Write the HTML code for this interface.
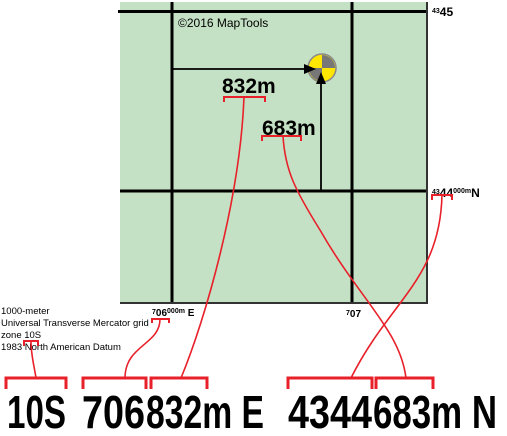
<!DOCTYPE html>
<html><head><meta charset="utf-8"><style>
html,body{margin:0;padding:0;background:#fff;width:507px;height:436px;overflow:hidden}
svg{display:block}
text{font-family:"Liberation Sans",sans-serif}
</style></head><body>
<svg width="507" height="436" viewBox="0 0 507 436">
<rect x="120" y="2" width="307" height="301" fill="#c5e1c5"/>
<g stroke="#000" stroke-width="3">
<line x1="118" y1="11.5" x2="428" y2="11.5"/>
<line x1="120" y1="191" x2="428" y2="191"/>
<line x1="172" y1="2" x2="172" y2="303"/>
<line x1="352" y1="2" x2="352" y2="303"/>
</g>
<line x1="427" y1="2" x2="427" y2="304" stroke="#333" stroke-width="2"/>
<line x1="120" y1="303" x2="428" y2="303" stroke="#333" stroke-width="2"/>
<line x1="172" y1="69" x2="313" y2="69" stroke="#000" stroke-width="1.8"/>
<line x1="321" y1="190" x2="321" y2="78" stroke="#000" stroke-width="1.8"/>
<g>
<circle cx="322" cy="68" r="14" fill="#ffe600" stroke="#888" stroke-width="1.5"/>
<path d="M322,68 L322,55 A13,13 0 0 1 335,68 Z" fill="#777"/>
<path d="M322,68 L309,68 A13,13 0 0 0 322,81 Z" fill="#777"/>
</g>
<path d="M304,64 L316,69 L304,74 Z" fill="#000"/>
<path d="M316,84 L321,72 L326,84 Z" fill="#000"/>
<text x="178" y="27" font-size="12" fill="#000">©2016 MapTools</text>
<text x="222" y="93" font-size="21" font-weight="bold">832m</text>
<text x="262" y="135" font-size="21" font-weight="bold">683m</text>
<text x="432" y="16" font-size="12" font-weight="bold"><tspan font-size="7" dy="-3">43</tspan><tspan dy="3">45</tspan></text>
<text x="432" y="197" font-size="12" font-weight="bold"><tspan font-size="7" dy="-3">43</tspan><tspan dy="3">44</tspan><tspan font-size="7" dy="-4">000m</tspan><tspan dy="4">N</tspan></text>
<text x="152" y="316" font-size="10" font-weight="bold"><tspan font-size="7" dy="-2">7</tspan><tspan dy="2">06</tspan><tspan font-size="7" dy="-3">000m</tspan><tspan dy="3"> E</tspan></text>
<text x="346" y="317" font-size="10" font-weight="bold"><tspan font-size="7" dy="-2">7</tspan><tspan dy="2">07</tspan></text>
<g font-size="9.5" fill="#000">
<text x="1" y="314">1000-meter</text>
<text x="1" y="326">Universal Transverse Mercator grid</text>
<text x="1" y="338">zone 10S</text>
<text x="1" y="350">1983 North American Datum</text>
</g>
<g fill="none" stroke="#e8202a" stroke-width="2">
<path d="M24,346 V341 H38 V346"/>
<path d="M152,323 V319 H169 V323"/>
<path d="M224,102 V97 H265 V102"/>
<path d="M262,141 V136 H301 V141"/>
<path d="M432,200 V195 H452 V200"/>
<path d="M6,389 V378 H66 V389" stroke-width="3"/>
<path d="M83,389 V378 H146 V389" stroke-width="3"/>
<path d="M151,389 V378 H207 V389" stroke-width="3"/>
<path d="M288,389 V378 H372 V389" stroke-width="3"/>
<path d="M376,389 V378 H433 V389" stroke-width="3"/>
</g>
<g fill="none" stroke="#e8202a" stroke-width="1.6">
<path d="M36,378 C34,365 31,355 31,341"/>
<path d="M125,378 C125,345 160,345 160,319"/>
<path d="M181,378 C205,320 240,200 244,97"/>
<path d="M351,378 C390,300 440,280 442,195"/>
<path d="M406,378 C400,330 360,300 320,230 C295,190 285,170 283,136"/>
</g>
<g font-size="46" font-weight="bold" fill="#000">
<text x="7" y="428" textLength="59" lengthAdjust="spacingAndGlyphs">10S</text>
<text x="82" y="428" textLength="63" lengthAdjust="spacingAndGlyphs">706</text>
<text x="146" y="428" textLength="118" lengthAdjust="spacingAndGlyphs">832m E</text>
<text x="288" y="428" textLength="84" lengthAdjust="spacingAndGlyphs">4344</text>
<text x="373" y="428" textLength="124" lengthAdjust="spacingAndGlyphs">683m N</text>
</g>
</svg>
</body></html>
